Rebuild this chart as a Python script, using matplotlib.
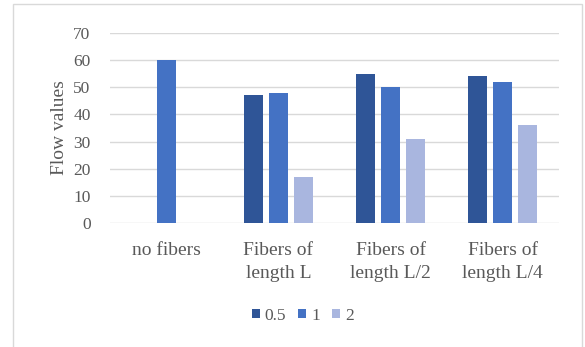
import matplotlib.pyplot as plt
import numpy as np
from matplotlib.patches import Rectangle

# data
categories = ["no fibers", "Fibers of\nlength L", "Fibers of\nlength L/2", "Fibers of\nlength L/4"]
series_names = ["0.5", "1", "2"]
vals_05 = [0, 47, 55, 54]
vals_1 = [60, 48, 50, 52]
vals_2 = [0, 17, 31, 36]
colors = ["#2F5597", "#4472C4", "#A9B6DF"]

plt.rcParams['font.family'] = ['Liberation Serif', 'DejaVu Serif']

fig = plt.figure(figsize=(5.85, 3.47), dpi=100)
ax = fig.add_axes([110 / 585, 1 - 223 / 347, (559 - 110) / 585, (223 - 33) / 347])

x = np.arange(len(categories))
step = 0.223
width = 0.17
for i, (vals, name) in enumerate(zip([vals_05, vals_1, vals_2], series_names)):
    ax.bar(x + (i - 1) * step, vals, width, color=colors[i], label=name, zorder=3)

ax.set_xlim(-0.5, len(categories) - 0.5)
ax.set_ylim(0, 70)
ax.set_yticks(range(0, 71, 10))
ax.set_xticks(x)
ax.set_xticklabels(categories, fontsize=14, color="#595959", linespacing=1.45)
ax.tick_params(axis='y', labelsize=12.5, labelcolor="#595959", length=0, pad=14)
ax.tick_params(axis='x', length=0, pad=14)
ax.grid(axis='y', color="#D9D9D9", linewidth=1, zorder=0)
for s in ax.spines.values():
    s.set_visible(False)
ax.set_ylabel("Flow values", fontsize=14, color="#595959", labelpad=4)

fig.legend(loc='center', bbox_to_anchor=(303 / 585, 1 - 316 / 347), ncol=3, frameon=False,
           fontsize=12.5, handlelength=0.45, handleheight=0.45, handletextpad=0.3,
           columnspacing=0.7, labelcolor="#595959")

# outer chart frame (open at the bottom, as in the reference crop)
fig.patches.append(Rectangle((13 / 585, -0.01), (582 - 13) / 585, 1 - 4 / 347 + 0.01,
                             transform=fig.transFigure, fill=False,
                             edgecolor="#D9D9D9", linewidth=1))

fig.savefig("out.png", dpi=100)
